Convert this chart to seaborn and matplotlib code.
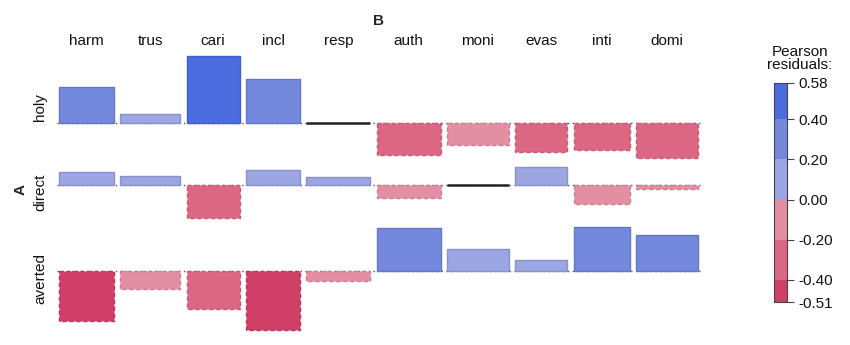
import numpy as np
import pandas as pd
import matplotlib
matplotlib.use("Agg")
import matplotlib.pyplot as plt
import matplotlib.colors as mcolors
import seaborn as sns

# association plot of A (gaze) x B (category), Pearson residuals
columns = ["harm", "trus", "cari", "incl", "resp", "auth", "moni", "evas", "inti", "domi"]
rows = ["holy", "direct", "averted"]
col_width = [55, 60, 53, 54, 64, 64, 62, 52, 56, 62]  # ~ sqrt(expected), relative

holy = [0.31, 0.08, 0.58, 0.38, 0.00, -0.28, -0.19, -0.25, -0.23, -0.30]
direct = [0.12, 0.08, -0.28, 0.13, 0.07, -0.11, 0.00, 0.16, -0.16, -0.03]
averted = [-0.43, -0.16, -0.33, -0.51, -0.09, 0.37, 0.19, 0.09, 0.38, 0.31]

scale_breaks = [-0.51, -0.40, -0.20, 0.00, 0.20, 0.40, 0.58]
shade_colors = ["#D03F68", "#DC6784", "#E38FA3", "#9BA6E3", "#7488DE", "#4B6DE0"]

df = pd.DataFrame({"A": np.repeat(rows, len(columns)),
                   "B": columns * len(rows),
                   "resid": holy + direct + averted})

sns.set_theme(style="white")
plt.rcParams["font.family"] = ["Liberation Sans", "DejaVu Sans"]

cmap = mcolors.ListedColormap(shade_colors)
norm = mcolors.BoundaryNorm(scale_breaks, cmap.N)

px_per_unit = 115.5
col_gap = 6.33
row_gap = 0.08

fig = plt.figure(figsize=(8.5, 3.45), dpi=100)
ax = fig.add_axes([0, 0, 1, 1])
ax.set_xlim(-59, 791)
ax.set_ylim(-(345 - 123) / px_per_unit, 123 / px_per_unit)
ax.axis("off")

# x positions of cells
starts = np.concatenate([[0], np.cumsum(np.array(col_width) + col_gap)[:-1]])
x_left = starts[0] - 2
x_right = starts[-1] + col_width[-1] + 2

# row baselines stacked from residual extents
bases = [0.0]
for i in range(1, len(rows)):
    prev = df[df.A == rows[i - 1]].resid
    cur = df[df.A == rows[i]].resid
    bases.append(bases[-1] - (max(0, -prev.min()) + max(0, cur.max()) + row_gap))

for i, r in enumerate(rows):
    sub = df[df.A == r].reset_index(drop=True)
    b = bases[i]
    ax.plot([x_left, x_right], [b, b], color="#555555", lw=1.0,
            linestyle=(0, (1, 2.5)), zorder=1)
    for j, v in enumerate(sub.resid):
        if v == 0:
            ax.plot([starts[j], starts[j] + col_width[j]], [b, b],
                    color="#222222", lw=1.8, zorder=3, solid_capstyle="butt")
            continue
        fc = cmap(norm(v))
        ec = tuple(c * 0.88 for c in fc[:3])
        ax.bar(starts[j], v, width=col_width[j], bottom=b, align="edge",
               color=fc, edgecolor=ec, lw=1.0,
               linestyle="-" if v > 0 else (0, (3, 2)), zorder=2)
    lo = b + min(0, sub.resid.min())
    hi = b + max(0, sub.resid.max())
    ax.text(-19, (lo + hi) / 2, r, rotation=90, ha="center", va="center",
            fontsize=11, color="#111111")

label_y = (123 - 45) / px_per_unit
for j, c in enumerate(columns):
    ax.text(starts[j] + col_width[j] / 2, label_y, c, ha="center",
            va="baseline", fontsize=11, color="#111111")

ax.text((starts[0] + starts[-1] + col_width[-1]) / 2, (123 - 25) / px_per_unit, "B",
        ha="center", va="baseline", fontsize=11, fontweight="bold")
top = max(holy)
bottom = bases[-1] + min(averted)
ax.text(-38, (top + bottom) / 2 + 0.03, "A", rotation=90, ha="center", va="center",
        fontsize=11, fontweight="bold")

# legend colour bar
cax = fig.add_axes([774 / 850, 1 - 302 / 345, 13 / 850, 219 / 345])
cb = matplotlib.colorbar.ColorbarBase(cax, cmap=cmap, norm=norm,
                                      boundaries=scale_breaks, spacing="proportional",
                                      ticks=scale_breaks, orientation="vertical")
cb.ax.set_yticklabels([f"{t:.2f}" for t in scale_breaks])
cb.outline.set_linewidth(0.8)
cb.outline.set_edgecolor("#444444")
cax.tick_params(axis="y", length=5, width=0.8, color="#444444", labelsize=11,
                pad=3, right=True, labelcolor="#111111")
fig.text(800 / 850, 1 - 45 / 345, "Pearson\nresiduals:", ha="center", va="top",
         fontsize=11, linespacing=0.95, color="#111111")

fig.savefig("out.png", dpi=100)
